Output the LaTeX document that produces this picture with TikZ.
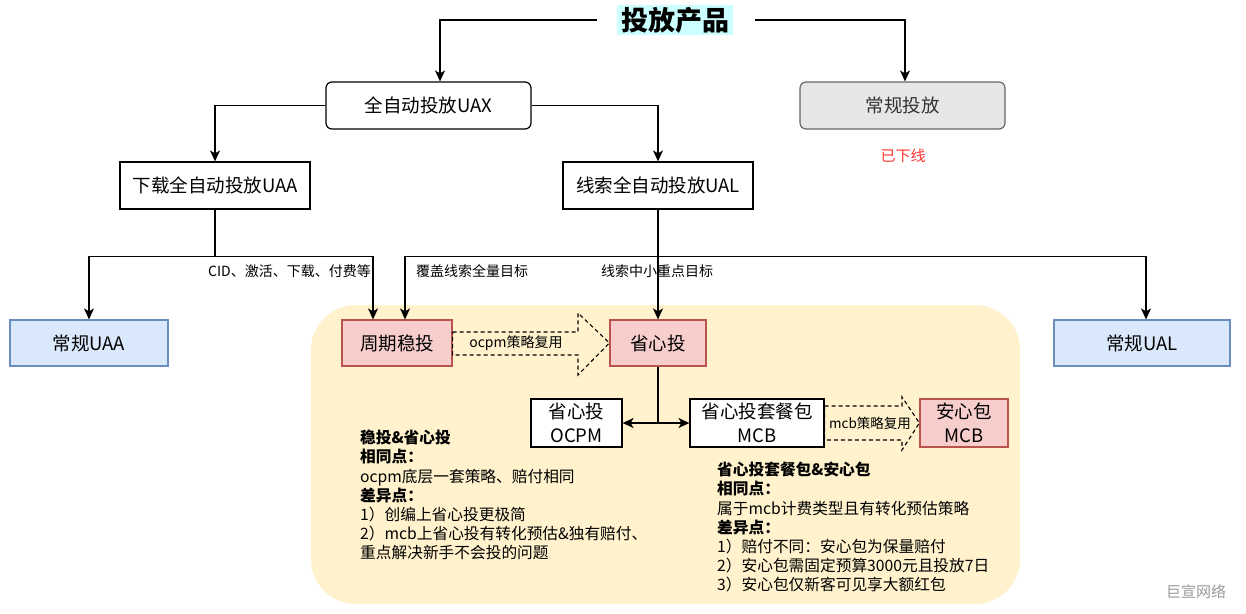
\documentclass[tikz,border=0pt]{standalone}
\usepackage{fontspec}
\setmainfont{Noto Sans CJK SC}
\usetikzlibrary{arrows.meta,calc}
\definecolor{titlebg}{HTML}{CCFFFF}
\definecolor{yel}{HTML}{FFF2CC}
\definecolor{pinkf}{HTML}{F8CECC}
\definecolor{pinkd}{HTML}{B85450}
\definecolor{bluef}{HTML}{DAE8FC}
\definecolor{blued}{HTML}{6C8EBF}
\definecolor{grayf}{HTML}{E6E6E6}
\definecolor{grayd}{HTML}{666666}
\definecolor{txtg}{HTML}{333333}
\definecolor{redt}{HTML}{FF3333}
\definecolor{wmk}{HTML}{999999}
\begin{document}
\begin{tikzpicture}[x=1pt,y=-1pt,
  basebox/.style={draw, line width=1.2pt, inner sep=0pt, font=\fontsize{18.5}{22}\selectfont},
  whitebox/.style={basebox, fill=white},
  roundbox/.style={basebox, fill=white, rounded corners=6pt},
  graybox/.style={basebox, fill=grayf, draw=grayd, text=txtg, rounded corners=6pt},
  pinkbox/.style={basebox, fill=pinkf, draw=pinkd},
  bluebox/.style={basebox, fill=bluef, draw=blued},
  twoline/.style={align=center, font=\fontsize{18.5}{24}\selectfont},
  conn/.style={line width=1.3pt},
  arr/.style={conn, -{Stealth[length=11pt,width=10pt,inset=3pt]}},
  darr/.style={conn, {Stealth[length=11pt,width=10pt,inset=3pt]}-{Stealth[length=11pt,width=10pt,inset=3pt]}},
  elabel/.style={font=\fontsize{14}{16}\selectfont, inner sep=0pt},
  note/.style={anchor=north west, inner sep=0pt, align=left, font=\fontsize{15.7}{19.2}\selectfont},
  blockarr/.style={draw, dashed, line width=1.1pt, dash pattern=on 4pt off 3pt}
]
\useasboundingbox (0,0) rectangle (1246,613);
\fill[white] (0,0) rectangle (1246,613);

% yellow region
\fill[yel, rounded corners=45pt] (311,305) rectangle (1020,604);

% nodes
\node[fill=titlebg, inner sep=0pt, minimum width=116pt, minimum height=30pt, font=\bfseries\fontsize{27}{30}\selectfont] (title) at (675,20) {投放产品};
\node[roundbox, minimum width=205pt, minimum height=47pt] (uax) at (428.5,105.5) {全自动投放UAX};
\node[graybox, minimum width=205pt, minimum height=47pt] (cg) at (902.5,105.5) {常规投放};
\node[text=redt, font=\fontsize{15}{17}\selectfont, inner sep=0pt] (off) at (903,156) {已下线};
\node[whitebox, minimum width=190pt, minimum height=47pt] (uaa) at (215,185.5) {下载全自动投放UAA};
\node[whitebox, minimum width=190pt, minimum height=47pt] (ual) at (658,185.5) {线索全自动投放UAL};
\node[bluebox, minimum width=158pt, minimum height=46pt] (cuaa) at (89,343) {常规UAA};
\node[bluebox, minimum width=176pt, minimum height=46pt] (cual) at (1142,343) {常规UAL};
\node[pinkbox, minimum width=110pt, minimum height=46pt] (wt) at (397,343) {周期稳投};
\node[pinkbox, minimum width=96pt, minimum height=46pt] (sxt) at (658,343) {省心投};
\node[whitebox, twoline, minimum width=91pt, minimum height=48pt] (ocpm) at (576.5,423) {省心投\\OCPM};
\node[whitebox, twoline, minimum width=134pt, minimum height=48pt] (mcb) at (757,423) {省心投套餐包\\MCB};
\node[pinkbox, twoline, minimum width=88pt, minimum height=48pt] (axb) at (964,423) {安心包\\MCB};

% connectors from title
\draw[arr, shorten <=20pt] (title.west) -| ([xshift=11.5pt]uax.north);
\draw[arr, shorten <=22pt] (title.east) -| ([xshift=2.5pt]cg.north);
% UAX branches
\draw[arr] (uax.west) -| (uaa.north);
\draw[arr] (uax.east) -| (ual.north);
% UAA branches
\draw[conn] (uaa.south) -- ++(0,47) coordinate (j1);
\draw[arr] (j1) -| (cuaa.north);
\draw[arr] (j1) -| ([xshift=-24pt]wt.north);
% UAL branches
\draw[arr] (ual.south) -- (sxt.north);
\coordinate (j2) at ($(ual.south)+(0,47)$);
\draw[arr] (j2) -| ([xshift=8pt]wt.north);
\draw[arr] (j2) -| ([xshift=4pt]cual.north);
% labels
\node[elabel, anchor=east] (l1) at (371,271) {CID、激活、下载、付费等};
\node[elabel, anchor=west] (l2) at (416,271) {覆盖线索全量目标};
\node[elabel, anchor=west] (l3) at (601,271) {线索中小重点目标};

% 省心投 down to double arrow
\draw[conn] (sxt.south) -- (sxt.south |- ocpm.east);
\draw[darr] (ocpm.east) -- (mcb.west);

% dashed block arrow 1
\draw[blockarr] (wt.east |- 0,332) -- (578,332) -- (578,313) -- (sxt.west) -- (578,375) -- (578,355) -- (wt.east |- 0,355) -- cycle;
\node[elabel] (lb1) at (516,343) {ocpm策略复用};
% dashed block arrow 2
\draw[blockarr] (mcb.east |- 0,406) -- (902,406) -- (902,397) -- (axb.west) -- (902,450) -- (902,440) -- (mcb.east |- 0,440) -- cycle;
\node[elabel, font=\fontsize{13.5}{16}\selectfont] (lb2) at (870,423) {mcb策略复用};

% notes
\node[note] (n1) at (360,430) {\textbf{稳投\&省心投}\\\textbf{相同点：}\\ocpm底层一套策略、赔付相同\\\textbf{差异点：}\\1）创编上省心投更极简\\2）mcb上省心投有转化预估\&独有赔付、\\重点解决新手不会投的问题};
\node[note] (n2) at (717,462) {\textbf{省心投套餐包\&安心包}\\\textbf{相同点：}\\属于mcb计费类型且有转化预估策略\\\textbf{差异点：}\\1）赔付不同：安心包为保量赔付\\2）安心包需固定预算3000元且投放7日\\3）安心包仅新客可见享大额红包};

% watermark
\node[text=wmk, font=\fontsize{15}{17}\selectfont, inner sep=0pt] (wm) at (1196,592) {巨宣网络};
\end{tikzpicture}
\end{document}
